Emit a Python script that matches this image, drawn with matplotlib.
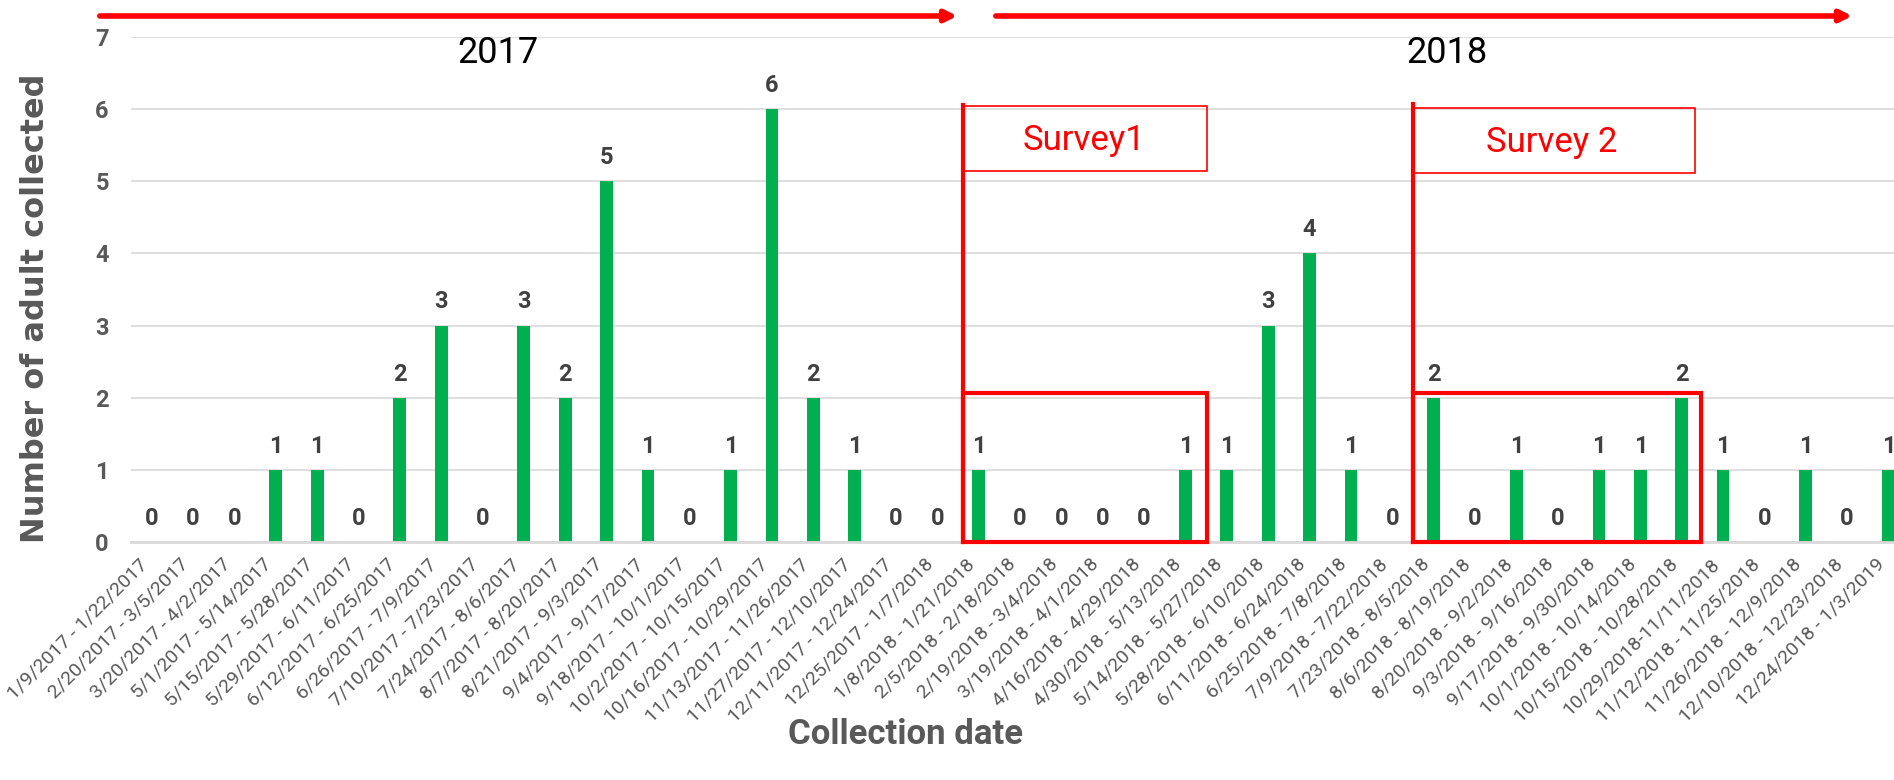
import matplotlib
matplotlib.use("Agg")
import matplotlib.pyplot as plt
import matplotlib.transforms as mtransforms
from matplotlib.patches import Rectangle, FancyArrowPatch

periods = [
    "1/9/2017 - 1/22/2017", "2/20/2017 - 3/5/2017", "3/20/2017 - 4/2/2017",
    "5/1/2017 - 5/14/2017", "5/15/2017 - 5/28/2017", "5/29/2017 - 6/11/2017",
    "6/12/2017 - 6/25/2017", "6/26/2017 - 7/9/2017", "7/10/2017 - 7/23/2017",
    "7/24/2017 - 8/6/2017", "8/7/2017 - 8/20/2017", "8/21/2017 - 9/3/2017",
    "9/4/2017 - 9/17/2017", "9/18/2017 - 10/1/2017", "10/2/2017 - 10/15/2017",
    "10/16/2017 - 10/29/2017", "11/13/2017 - 11/26/2017", "11/27/2017 - 12/10/2017",
    "12/11/2017 - 12/24/2017", "12/25/2017 - 1/7/2018", "1/8/2018 - 1/21/2018",
    "2/5/2018 - 2/18/2018", "2/19/2018 - 3/4/2018", "3/19/2018 - 4/1/2018",
    "4/16/2018 - 4/29/2018", "4/30/2018 - 5/13/2018", "5/14/2018 - 5/27/2018",
    "5/28/2018 - 6/10/2018", "6/11/2018 - 6/24/2018", "6/25/2018 - 7/8/2018",
    "7/9/2018 - 7/22/2018", "7/23/2018 - 8/5/2018", "8/6/2018 - 8/19/2018",
    "8/20/2018 - 9/2/2018", "9/3/2018 - 9/16/2018", "9/17/2018 - 9/30/2018",
    "10/1/2018 - 10/14/2018", "10/15/2018 - 10/28/2018", "10/29/2018-11/11/2018",
    "11/12/2018 - 11/25/2018", "11/26/2018 - 12/9/2018", "12/10/2018 - 12/23/2018",
    "12/24/2018 - 1/3/2019",
]
adults = [0, 0, 0, 1, 1, 0, 2, 3, 0, 3, 2, 5, 1, 0, 1, 6, 2, 1, 0, 0, 1,
          0, 0, 0, 0, 1, 1, 3, 4, 1, 0, 2, 0, 1, 0, 1, 1, 2, 1, 0, 1, 0, 1]

GREEN = "#00b050"
GRAY = "#595959"
RED = "#ff0000"

fig = plt.figure(figsize=(18.94, 7.8), dpi=100)
ax = fig.add_axes([0.0692, 0.3051, 0.9388, 0.6474])

x = list(range(len(adults)))
ax.bar(x, adults, width=0.31, color=GREEN, zorder=2)
for xi, v in zip(x, adults):
    ax.annotate(str(v), (xi, v), xytext=(0, 17), textcoords="offset points",
                ha="center", va="center", fontsize=17, fontweight="bold",
                color="#404040", family="Roboto")

ax.set_xlim(-0.5, len(adults) - 0.5)
ax.set_ylim(0, 7)
ax.set_yticks(range(8))
ax.yaxis.grid(True, color="#d9d9d9", lw=1.2, zorder=0)
for s in ["top", "right", "left"]:
    ax.spines[s].set_visible(False)
ax.spines["bottom"].set_color("#d9d9d9")
ax.spines["bottom"].set_linewidth(2)
ax.tick_params(axis="y", length=0, pad=16, labelsize=17, labelcolor=GRAY)
for t in ax.get_yticklabels():
    t.set_fontweight("bold")
    t.set_family("Roboto")
ax.set_xticks(x)
ax.set_xticklabels(periods, rotation=45, ha="right", va="center",
                   rotation_mode="anchor", fontsize=14, color=GRAY, family="Roboto")
ax.tick_params(axis="x", length=0, pad=14)
# nudge the slanted date labels a little to the left
nudge = mtransforms.ScaledTranslation(-5 / 72, 0, fig.dpi_scale_trans)
for t in ax.get_xticklabels():
    t.set_transform(t.get_transform() + nudge)

# survey 1 flag
ax.add_patch(Rectangle((19.61, 5.15), 25.51 - 19.61, 6.04 - 5.15, fill=False,
                       ec=RED, lw=1.2, zorder=3))
ax.add_patch(Rectangle((19.61, 0.0), 25.51 - 19.61, 2.06, fill=False,
                       ec=RED, lw=3, zorder=3, clip_on=False))
ax.plot([19.61, 19.61], [0, 6.06], color=RED, lw=3, zorder=3, clip_on=False)
ax.text(22.54, 5.57, "Survey1", color=RED, fontsize=25, ha="center", va="center",
        family="Roboto")

# survey 2 flag
ax.add_patch(Rectangle((30.51, 5.12), 37.32 - 30.51, 6.01 - 5.12, fill=False,
                       ec=RED, lw=1.2, zorder=3))
ax.add_patch(Rectangle((30.51, 0.0), 37.46 - 30.51, 2.06, fill=False,
                       ec=RED, lw=3, zorder=3, clip_on=False))
ax.plot([30.51, 30.51], [0, 6.07], color=RED, lw=3, zorder=3, clip_on=False)
ax.text(33.86, 5.54, "Survey 2", color=RED, fontsize=25, ha="center", va="center",
        family="Roboto")

# year headers with arrows
ax.text(8.38, 6.78, "2017", fontsize=26, ha="center", va="center", family="Roboto")
ax.text(31.33, 6.78, "2018", fontsize=26, ha="center", va="center", family="Roboto")
for x0, x1 in [(0.0512, 0.5069), (0.5243, 0.9794)]:
    fig.patches.append(FancyArrowPatch(
        (x0, 0.9795), (x1, 0.9795), transform=fig.transFigure,
        arrowstyle="-|>", mutation_scale=17, lw=4, color=RED))

fig.text(0.019, 0.605, "Number of adult collected", rotation=90, ha="center",
         va="center", fontsize=23, fontweight="bold", color=GRAY)
fig.text(0.478, 0.058, "Collection date", ha="center", va="center", fontsize=25,
         fontweight="bold", color=GRAY, family="Roboto")

fig.savefig("out.png", dpi=100)
